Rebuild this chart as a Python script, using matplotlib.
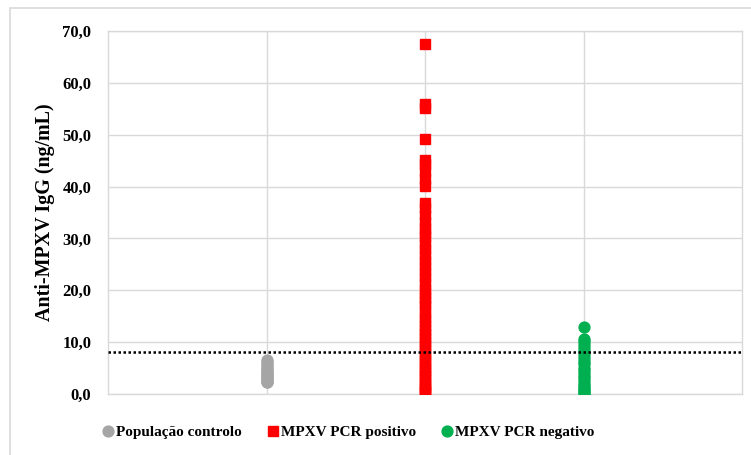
import matplotlib
matplotlib.use("Agg")
import matplotlib.pyplot as plt
from matplotlib.patches import Rectangle
from matplotlib.ticker import FuncFormatter

plt.rcParams['font.family'] = ['Liberation Serif', 'DejaVu Serif']
plt.rcParams['font.weight'] = 'bold'

# IgG values per group (ng/mL)
controlo = [6.6, 6.2, 5.8, 5.4, 5.0, 4.7, 4.4, 4.1, 3.8, 3.5, 3.3, 3.0, 2.8, 2.6, 2.4, 2.3]
pcr_positivo = [67.4, 56.0, 55.1, 49.2, 45.2, 44.3, 43.0, 41.4, 40.1,
                36.8, 35.9, 34.5, 33.2, 32.0, 31.1, 30.2, 29.0, 27.9, 26.8,
                25.7, 24.6, 23.5, 22.6, 21.4, 20.3, 19.5, 18.6, 17.7, 16.9,
                15.8, 14.9, 14.0, 13.2, 12.4, 11.6, 10.8, 10.1, 9.4, 8.7,
                8.0, 7.3, 6.6, 5.9, 5.2, 4.6, 4.0, 3.4, 2.8, 2.2, 1.7,
                1.2, 0.8, 0.4, 0.1]
pcr_negativo = [12.9, 10.7, 10.2, 9.6, 9.1, 8.5, 7.9, 7.4, 6.8, 6.2, 5.7,
                5.1, 4.6, 4.0, 3.5, 3.0, 2.5, 2.0, 1.6, 1.2, 0.8, 0.5, 0.2, 0.0]
cutoff = 8.1

grupos = ["População controlo", "MPXV PCR positivo", "MPXV PCR negativo"]
cores = ["#A5A5A5", "#FF0000", "#00B050"]
marcadores = ["o", "s", "o"]

fig = plt.figure(figsize=(7.51, 4.55), dpi=100)
ax = fig.add_axes([108 / 751, 1 - 394 / 455, 634 / 751, 363 / 455])

# light frame around the whole chart
fig.patches.append(Rectangle((10 / 751, -0.05), 1.05, 1 - 8 / 455 + 0.05,
                             transform=fig.transFigure, fill=False,
                             edgecolor="#D9D9D9", linewidth=1.2, zorder=0))

for i, (vals, cor, m, nome) in enumerate(zip([controlo, pcr_positivo, pcr_negativo],
                                              cores, marcadores, grupos)):
    ax.plot([i + 1] * len(vals), vals, linestyle="none", marker=m,
            markersize=7.8, color=cor, label=nome, zorder=3)

ax.axhline(cutoff, color="black", linestyle=(0, (1, 1)), linewidth=1.8, zorder=4)

ax.set_xlim(0, 4)
ax.set_ylim(0, 70)
ax.set_yticks(range(0, 71, 10))
ax.set_xticks([1, 2, 3])
ax.set_xticklabels([])
ax.yaxis.set_major_formatter(FuncFormatter(lambda v, p: f"{v:.1f}".replace(".", ",")))
ax.tick_params(length=0, labelsize=12, pad=12)
for lab in ax.get_yticklabels():
    lab.set_fontweight("bold")
ax.grid(True, color="#D9D9D9", linewidth=1)
ax.set_axisbelow(True)
for s in ax.spines.values():
    s.set_color("#D9D9D9")
    s.set_linewidth(1)

ax.set_ylabel("Anti-MPXV IgG (ng/mL)", fontsize=14.4, fontweight="bold", labelpad=5)

fig.legend(loc="center", bbox_to_anchor=(349 / 751, 1 - 432 / 455), ncol=3,
           frameon=False, handlelength=0.6, handletextpad=0.25,
           columnspacing=1.7, prop={"size": 11, "weight": "bold"})

fig.savefig("out.png", dpi=100)
